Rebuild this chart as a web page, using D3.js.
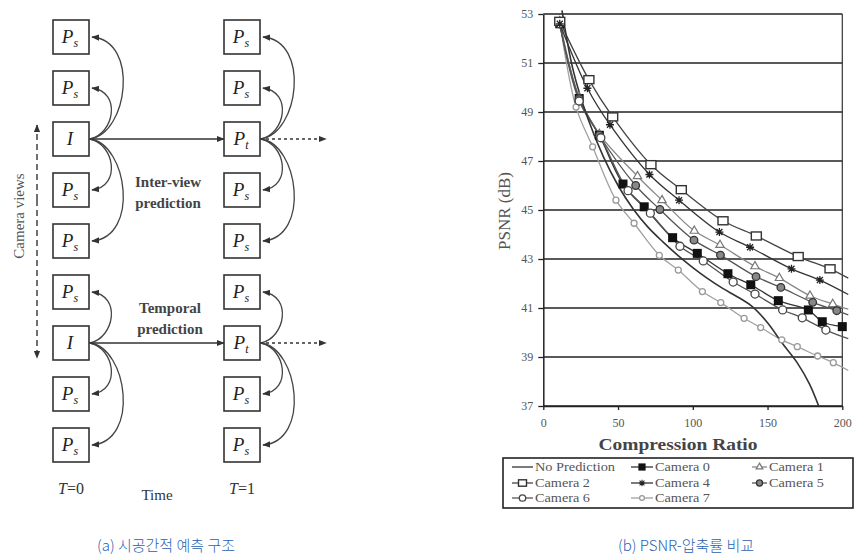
<!DOCTYPE html>
<html>
<head>
<meta charset="utf-8">
<script src="https://cdn.jsdelivr.net/npm/d3@7"></script>
<style>
  body { margin: 0; background: #fff; }
  svg text { font-family: "Liberation Serif", "DejaVu Serif", serif; }
</style>
</head>
<body>
<svg id="fig" width="859" height="556"></svg>
<script>
// ---- left diagram data
var rowsT0 = ['Ps','Ps','I','Ps','Ps','Ps','I','Ps','Ps'];
var rowsT1 = ['Ps','Ps','Pt','Ps','Ps','Ps','Pt','Ps','Ps'];
var timeSteps = ['0', '1'];
// [from row, to row]
var interViewLinks = [[2,0],[2,1],[2,3],[2,4],[6,5],[6,7],[6,8]];
var temporalRows = [2, 6];

// ---- right chart data
var ratioTicks = [0, 50, 100, 150, 200];
var psnrTicks = [37, 39, 41, 43, 45, 47, 49, 51, 53];
var seriesNames = ['No Prediction','Camera 0','Camera 1','Camera 2','Camera 4','Camera 5','Camera 6','Camera 7'];

var noPrediction = [[12.5,53.15],[20,50.7],[30,48.7],[40,47.2],[50,46.0],[60,45.05],[70,44.3],[80,43.7],
  [90,43.15],[100,42.65],[110,42.2],[120,41.8],[130,41.45],[140,41.05],[150,40.4],[160,39.55],
  [170,38.75],[178,37.9],[184.5,36.95]];
var camera0 = [[11,52.6],[24,49.55],[37.5,48.05],[53.3,46.06],[67.5,45.13],[86.5,43.87],[103,43.23],
  [123.5,42.4],[138.8,41.95],[157.2,41.3],[177.3,40.92],[186.6,40.44],[200,40.24]];
var camera1 = [[11,52.7],[24,49.6],[37.5,48.1],[63,46.38],[79.4,45.4],[101,44.15],[118.2,43.57],
  [141.6,42.7],[157.9,42.22],[178.4,41.5],[193.6,41.16]];
var camera2 = [[11,52.7],[30.5,50.32],[46.4,48.8],[72,46.85],[92.3,45.83],[120.2,44.56],[142.5,43.94],
  [170.5,43.1],[191.8,42.6]];
var camera4 = [[11,52.6],[29.5,49.97],[44.6,48.48],[71,46.45],[90.8,45.4],[117.8,44.1],[138.3,43.48],
  [166,42.6],[185,42.14]];
var camera5 = [[11,52.6],[24,49.55],[37.5,48.05],[61.8,46.0],[78,45.02],[100.8,43.77],[118.5,43.16],
  [142.3,42.28],[158.9,41.84],[180.2,41.23],[196.3,40.89]];
var camera6 = [[11,52.6],[24,49.45],[38.5,47.95],[56.7,45.79],[71.6,44.87],[91.4,43.52],[107,42.92],
  [127,42.06],[141.6,41.57],[160.1,40.92],[173.2,40.6],[189,40.1]];
var camera7 = [[11,52.7],[21.9,49.2],[33,47.58],[48.6,45.4],[60.7,44.46],[77.6,43.15],[90.3,42.55],
  [106.4,41.67],[118.7,41.22],[134.3,40.58],[145.4,40.2],[159.5,39.7],[169.9,39.42],[183.5,39.04],[194,38.77]];
// where each trend line runs out past its last marker
var lineEnds = {'Camera 1':[204,40.95],'Camera 2':[204,42.22],'Camera 4':[204,41.55],
  'Camera 5':[204,40.72],'Camera 6':[204,39.75],'Camera 7':[204,38.45]};

var svg = d3.select('#fig');

var defs = svg.append('defs');
defs.append('marker').attr('id','arrow').attr('viewBox','0 0 10 10')
  .attr('refX', 9).attr('refY', 5).attr('markerWidth', 8).attr('markerHeight', 8)
  .attr('markerUnits','userSpaceOnUse').attr('orient','auto')
  .append('path').attr('d','M0,1 L10,5 L0,9 Z').attr('fill','#333');
defs.append('clipPath').attr('id','plotclip').append('rect')
  .attr('x', 543).attr('y', 8).attr('width', 308).attr('height', 398);

// =================== (a) diagram
var rowY = d3.scalePoint().domain(d3.range(rowsT0.length)).range([37, 445]);
var colX = d3.scalePoint().domain(timeSteps).range([71, 242]);
var bw = 36, bh = 34;

var diag = svg.append('g').attr('class','diagram');

function boxLabel(g, x, y, kind) {
  var t = g.append('text').attr('x', x).attr('y', y + 6).attr('text-anchor','middle')
    .attr('fill','#222').style('font-size','19px').style('font-style','italic');
  if (kind === 'I') {
    t.text('I');
  } else {
    t.append('tspan').text('P');
    t.append('tspan').attr('dy', 4).style('font-size','12px').text(kind === 'Ps' ? 's' : 't');
  }
}

[rowsT0, rowsT1].forEach(function(rows, ci) {
  var cx = colX(timeSteps[ci]);
  rows.forEach(function(kind, ri) {
    var cy = rowY(ri);
    diag.append('rect').attr('x', cx - bw/2).attr('y', cy - bh/2).attr('width', bw).attr('height', bh)
      .attr('fill','#fff').attr('stroke','#333').attr('stroke-width', 1.6);
    boxLabel(diag, cx - 1, cy, kind);
  });
  // inter-view arcs
  interViewLinks.forEach(function(l) {
    var y0 = rowY(l[0]), y1 = rowY(l[1]);
    var x0 = cx + bw/2 + 1, x1 = cx + bw/2 + 3;
    var k = Math.abs(l[0] - l[1]) > 1 ? 50 : 32;
    var dir = y1 < y0 ? -1 : 1;
    var p = d3.path();
    p.moveTo(x0, y0);
    p.bezierCurveTo(x0 + k * 0.75, y0 + dir * 5, x0 + k * 1.0, y1 - dir * 4, x1, y1);
    diag.append('path').attr('d', p.toString()).attr('fill','none')
      .attr('stroke','#444').attr('stroke-width', 1.3).attr('marker-end','url(#arrow)');
  });
});

// temporal arrows
temporalRows.forEach(function(r) {
  var y = rowY(r);
  diag.append('line').attr('x1', colX('0') + bw/2).attr('x2', colX('1') - bw/2).attr('y1', y).attr('y2', y)
    .attr('stroke','#333').attr('stroke-width', 1.6).attr('marker-end','url(#arrow)');
  diag.append('line').attr('x1', colX('1') + bw/2).attr('x2', 326).attr('y1', y).attr('y2', y)
    .attr('stroke','#333').attr('stroke-width', 1.4).attr('stroke-dasharray','3,3')
    .attr('marker-end','url(#arrow)');
});

// camera views axis
diag.append('line').attr('x1', 37).attr('x2', 37).attr('y1', 200).attr('y2', 125)
  .attr('stroke','#333').attr('stroke-width', 1.4).attr('stroke-dasharray','6,4').attr('marker-end','url(#arrow)');
diag.append('line').attr('x1', 37).attr('x2', 37).attr('y1', 200).attr('y2', 358)
  .attr('stroke','#333').attr('stroke-width', 1.4).attr('stroke-dasharray','6,4').attr('marker-end','url(#arrow)');
diag.append('text').attr('transform','translate(24,216) rotate(-90)').attr('text-anchor','middle')
  .attr('fill','#555').style('font-size','15px').text('Camera views');

diag.append('text').attr('x', 168).attr('y', 187).attr('text-anchor','middle').attr('fill','#444')
  .style('font-size','15px').style('font-weight','bold').text('Inter-view');
diag.append('text').attr('x', 168).attr('y', 208).attr('text-anchor','middle').attr('fill','#444')
  .style('font-size','15px').style('font-weight','bold').text('prediction');
diag.append('text').attr('x', 170).attr('y', 313).attr('text-anchor','middle').attr('fill','#444')
  .style('font-size','15px').style('font-weight','bold').text('Temporal');
diag.append('text').attr('x', 170).attr('y', 334).attr('text-anchor','middle').attr('fill','#444')
  .style('font-size','15px').style('font-weight','bold').text('prediction');

timeSteps.forEach(function(t) {
  var tt = diag.append('text').attr('x', colX(t)).attr('y', 494).attr('text-anchor','middle')
    .attr('fill','#333').style('font-size','16px');
  tt.append('tspan').style('font-style','italic').text('T');
  tt.append('tspan').text('=' + t);
});
diag.append('text').attr('x', 157).attr('y', 500).attr('text-anchor','middle').attr('fill','#333')
  .style('font-size','15px').text('Time');

// =================== (b) chart
var x = d3.scaleLinear().domain([0, 200]).range([543.3, 842.3]);
var y = d3.scaleLinear().domain([37, 53]).range([406, 14]);

var chart = svg.append('g').attr('class','chart');

chart.selectAll('line.grid').data(psnrTicks).enter().append('line').attr('class','grid')
  .attr('x1', x(0)).attr('x2', x(200)).attr('y1', function(d){ return y(d); }).attr('y2', function(d){ return y(d); })
  .attr('stroke','#222').attr('stroke-width', 1.4);
chart.append('line').attr('x1', x(200)).attr('x2', x(200)).attr('y1', y(53)).attr('y2', y(37))
  .attr('stroke','#333').attr('stroke-width', 1.2);

var yAxis = chart.append('g').attr('transform','translate(' + x(0) + ',0)')
  .call(d3.axisLeft(y).tickValues(psnrTicks).tickSize(5).tickSizeOuter(0));
var xAxis = chart.append('g').attr('transform','translate(0,' + y(37) + ')')
  .call(d3.axisBottom(x).tickValues(ratioTicks).tickSize(4).tickSizeOuter(0));
[yAxis, xAxis].forEach(function(a) {
  a.select('.domain').attr('stroke','#222').attr('stroke-width', 1.5);
  a.selectAll('.tick line').attr('stroke','#222').attr('stroke-width', 1.3);
  a.selectAll('.tick text').attr('fill','#555').style('font-family','"Liberation Serif", serif').style('font-size','12px');
});
yAxis.selectAll('.tick text').attr('x', -10);
xAxis.selectAll('.tick text').attr('y', 12);

chart.append('text').attr('transform','translate(510,211) rotate(-90)').attr('text-anchor','middle')
  .attr('fill','#555').style('font-size','17px').text('PSNR (dB)');
chart.append('text').attr('x', 678).attr('y', 450).attr('text-anchor','middle').attr('fill','#444')
  .attr('textLength', 159).attr('lengthAdjust','spacingAndGlyphs')
  .style('font-size','17px').style('font-weight','bold').text('Compression Ratio');

var seriesData = [noPrediction, camera0, camera1, camera2, camera4, camera5, camera6, camera7];
var seriesStyle = {
  'No Prediction': {color:'#333', marker:null, w:1.6},
  'Camera 0': {color:'#333', marker:'squareFilled', w:1.3},
  'Camera 1': {color:'#888', marker:'triangle', w:1.3},
  'Camera 2': {color:'#444', marker:'squareOpen', w:1.3},
  'Camera 4': {color:'#333', marker:'asterisk', w:1.3},
  'Camera 5': {color:'#555', marker:'circleGray', w:1.3},
  'Camera 6': {color:'#555', marker:'circleOpen', w:1.3},
  'Camera 7': {color:'#a0a0a0', marker:'circleSmall', w:1.3}
};

function drawMarker(g, type, px, py, s) {
  s = s || 1;
  if (type === 'squareFilled') {
    g.append('rect').attr('x', px - 4.5*s).attr('y', py - 4.5*s).attr('width', 9*s).attr('height', 9*s).attr('fill','#111');
  } else if (type === 'squareOpen') {
    g.append('rect').attr('x', px - 5*s).attr('y', py - 4*s).attr('width', 10*s).attr('height', 8*s)
      .attr('fill','#fff').attr('stroke','#333').attr('stroke-width', 1.4);
  } else if (type === 'triangle') {
    g.append('path').attr('d', d3.symbol(d3.symbolTriangle, 30*s*s)()).attr('transform','translate(' + px + ',' + py + ')')
      .attr('fill','#fff').attr('stroke','#777').attr('stroke-width', 1.2);
  } else if (type === 'asterisk') {
    g.append('path').attr('d','M-4,0H4M-3,-3L3,3M-3,3L3,-3M0,-4V4').attr('transform','translate(' + px + ',' + py + ') scale(' + s + ')')
      .attr('stroke','#222').attr('stroke-width', 1.3);
  } else if (type === 'circleGray') {
    g.append('circle').attr('cx', px).attr('cy', py).attr('r', 3.8*s).attr('fill','#888').attr('stroke','#333').attr('stroke-width', 1.3);
  } else if (type === 'circleOpen') {
    g.append('circle').attr('cx', px).attr('cy', py).attr('r', 4*s).attr('fill','#fff').attr('stroke','#444').attr('stroke-width', 1.3);
  } else if (type === 'circleSmall') {
    g.append('circle').attr('cx', px).attr('cy', py).attr('r', 3*s).attr('fill','#fff').attr('stroke','#999').attr('stroke-width', 1.3);
  }
}

var line = d3.line().x(function(d){ return x(d[0]); }).y(function(d){ return y(d[1]); }).curve(d3.curveCatmullRom.alpha(0.5));
var plot = chart.append('g').attr('clip-path','url(#plotclip)');
var order = [7, 1, 2, 5, 6, 3, 4, 0];
order.forEach(function(i) {
  var name = seriesNames[i], st = seriesStyle[name];
  var pts = seriesData[i].slice();
  if (lineEnds[name]) pts.push(lineEnds[name]);
  plot.append('path').attr('d', line(pts)).attr('fill','none').attr('stroke', st.color).attr('stroke-width', st.w);
});
order.forEach(function(i) {
  var name = seriesNames[i], st = seriesStyle[name];
  if (!st.marker) return;
  seriesData[i].forEach(function(d) { drawMarker(plot, st.marker, x(d[0]), y(d[1])); });
});

// legend
var legend = chart.append('g');
legend.append('rect').attr('x', 503).attr('y', 458).attr('width', 350).attr('height', 50)
  .attr('fill','#fff').attr('stroke','#222').attr('stroke-width', 1.6);
var legCols = [[512, 533], [631, 653], [752, 767]];
var legRows = [467, 483, 498];
seriesNames.forEach(function(name, i) {
  var col = legCols[i % 3], ry = legRows[Math.floor(i / 3)], st = seriesStyle[name];
  legend.append('line').attr('x1', col[0]).attr('x2', col[1]).attr('y1', ry).attr('y2', ry)
    .attr('stroke', st.color).attr('stroke-width', 1.3);
  if (st.marker) drawMarker(legend, st.marker, (col[0] + col[1]) / 2, ry, 0.8);
  legend.append('text').attr('x', col[1] + 2).attr('y', ry + 4).attr('fill','#555')
    .attr('textLength', name === 'No Prediction' ? 80 : 55).attr('lengthAdjust','spacingAndGlyphs')
    .style('font-size','13px').text(name);
});

// captions
svg.append('text').attr('x', 166).attr('y', 551).attr('text-anchor','middle').attr('fill','#2a5fb0')
  .style('font-family','"Noto Sans CJK KR", sans-serif').style('font-size','15px').style('font-weight','300')
  .text('(a) 시공간적 예측 구조');
svg.append('text').attr('x', 686).attr('y', 551).attr('text-anchor','middle').attr('fill','#2a5fb0')
  .style('font-family','"Noto Sans CJK KR", sans-serif').style('font-size','15px').style('font-weight','300')
  .text('(b) PSNR-압축률 비교');
</script>
</body>
</html>
